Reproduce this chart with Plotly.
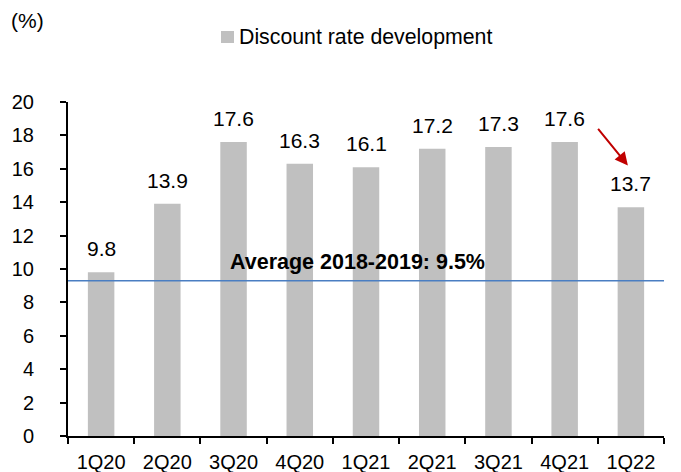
import plotly.graph_objects as go

categories = ["1Q20", "2Q20", "3Q20", "4Q20", "1Q21", "2Q21", "3Q21", "4Q21", "1Q22"]
discount_rate = [9.8, 13.9, 17.6, 16.3, 16.1, 17.2, 17.3, 17.6, 13.7]
series_name = "Discount rate development"
avg_line_value = 9.3
avg_label = "Average 2018-2019: 9.5%"
y_ticks = [0, 2, 4, 6, 8, 10, 12, 14, 16, 18, 20]

FONT = "Liberation Sans, Arial, sans-serif"
BAR_COLOR = "#C0C0C0"

fig = go.Figure()
fig.add_trace(go.Bar(
    x=categories, y=discount_rate, name=series_name,
    marker=dict(color=BAR_COLOR, line=dict(width=0)),
    width=0.4, showlegend=False,
))

# data labels
for c, v in zip(categories, discount_rate):
    fig.add_annotation(x=c, y=v, text=f"{v:.1f}", showarrow=False,
                       yanchor="bottom", yshift=10,
                       font=dict(family=FONT, size=21, color="#000000"))

# average line
fig.add_shape(type="line", xref="paper", x0=0, x1=1, yref="y",
              y0=avg_line_value, y1=avg_line_value,
              line=dict(color="#4A7EC2", width=1.5))
fig.add_annotation(xref="paper", x=0.486, xanchor="center", y=avg_line_value,
                   text=f"<b>{avg_label}</b>",
                   showarrow=False, yanchor="bottom", yshift=5,
                   font=dict(family=FONT, size=21.5, color="#000000"))

# red arrow
fig.add_annotation(x=categories[-1], y=16.2, xshift=-3, ax=-31, ay=-38,
                   axref="pixel", ayref="pixel", text="", showarrow=True,
                   arrowhead=2, arrowsize=1.3, arrowwidth=2, arrowcolor="#C00000")

# legend (drawn manually)
fig.add_shape(type="rect", xref="paper", yref="paper",
              x0=0.2567, x1=0.2785, y0=1.1766, y1=1.2126,
              fillcolor=BAR_COLOR, line=dict(width=0))
fig.add_annotation(xref="paper", yref="paper", x=0.2836, y=1.1946, text=series_name,
                   showarrow=False, xanchor="left", yanchor="middle",
                   font=dict(family=FONT, size=21.3, color="#000000"))

# (%) label
fig.add_annotation(xref="paper", yref="paper", x=-0.099, y=1.245, text="(%)",
                   showarrow=False, xanchor="left", yanchor="middle",
                   font=dict(family=FONT, size=21, color="#000000"))

# page body has an 8px margin, so the figure is 8px smaller and offset
fig.update_layout(
    width=673, height=464,
    margin=dict(l=60, r=17, t=94, b=36, autoexpand=False),
    paper_bgcolor="white", plot_bgcolor="white",
    font=dict(family=FONT, size=20, color="#000000"),
    showlegend=False,
    xaxis=dict(type="category", showline=True, linecolor="#000000", linewidth=2,
               ticks="outside", tickson="boundaries", ticklen=6, tickwidth=2,
               tickcolor="#000000", showgrid=False, tickfont=dict(size=20),
               ticklabelstandoff=7, automargin=False),
    yaxis=dict(range=[0, 20], tickvals=y_ticks, showline=True, linecolor="#000000",
               linewidth=2, ticks="outside", ticklen=6, tickwidth=2, tickcolor="#000000",
               showgrid=False, zeroline=False, ticklabelstandoff=22,
               tickfont=dict(size=20), automargin=False),
)

fig.write_html("out.html")
